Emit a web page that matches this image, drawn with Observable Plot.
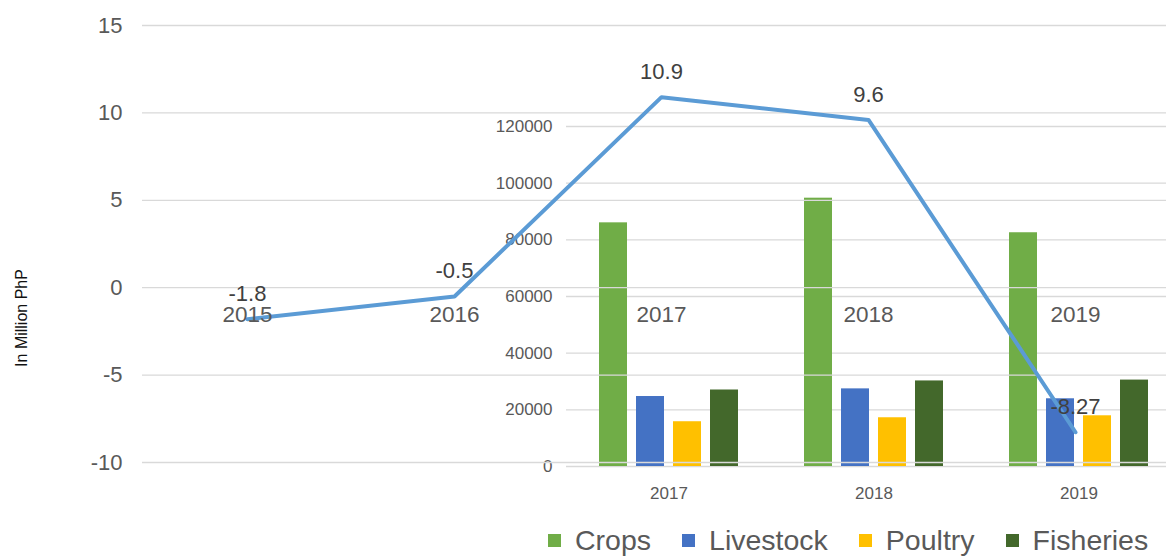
<!DOCTYPE html>
<html>
<head>
<meta charset="utf-8">
<script src="https://cdn.jsdelivr.net/npm/d3@7"></script>
<script src="https://cdn.jsdelivr.net/npm/@observablehq/plot@0.6"></script>
<style>
  html, body { margin: 0; padding: 0; background: #fff; }
  #wrap { position: relative; width: 1166px; height: 558px; overflow: hidden; background: #fff;
          font-family: "Liberation Sans", Arial, sans-serif; }
  #bars, #line { position: absolute; left: 0; top: 0; }
  #legend { position: absolute; top: 524px; left: 548px; display: flex; align-items: center;
            font-size: 28.5px; color: #595959; }
  #legend .item { display: flex; align-items: center; margin-right: 31px; }
  #legend .sw { width: 13px; height: 13px; margin-right: 14px; }
</style>
</head>
<body>
<div id="wrap">
  <div id="bars"></div>
  <div id="line"></div>
  <div id="legend"></div>
</div>
<script>
// Line series: annual growth
const years = ["2015", "2016", "2017", "2018", "2019"];
const growth = [-1.8, -0.5, 10.9, 9.6, -8.27];
const lineTicks = [-10, -5, 0, 5, 10, 15];
const yLabel = "In Million PhP";

// Bar series
const barYears = ["2017", "2018", "2019"];
const categories = ["Crops", "Livestock", "Poultry", "Fisheries"];
const crops = [86000, 94700, 82500];
const livestock = [24700, 27400, 23900];
const poultry = [15800, 17200, 17900];
const fisheries = [27000, 30200, 30500];
const barTicks = [0, 20000, 40000, 60000, 80000, 100000, 120000];
const colors = ["#70ad47", "#4472c4", "#ffc000", "#43682b"];

const lineData = years.map((y, i) => ({year: y, value: growth[i]}));
const series = [crops, livestock, poultry, fisheries];
const barData = [];
barYears.forEach((y, i) => categories.forEach((c, j) => barData.push({year: y, category: c, value: series[j][i]})));

const font = '"Liberation Sans", Arial, sans-serif';

const bars = Plot.plot({
  width: 1181, height: 520,
  marginLeft: 566, marginRight: 0, marginTop: 126, marginBottom: 54,
  style: {background: "transparent", maxWidth: "none", fontFamily: font, fontSize: "17px", color: "#595959", overflow: "visible"},
  facet: {data: barData, x: "year", marginBottom: 54, marginRight: 0},
  fx: {domain: barYears, padding: 0, label: null, tickSize: 0, tickPadding: 20, axis: "bottom"},
  x: {domain: categories, axis: null, paddingInner: 0.243, paddingOuter: 0.89},
  y: {domain: [0, 120000], ticks: barTicks, tickSize: 0, tickPadding: 14, tickFormat: d => String(d), label: null},
  color: {domain: categories, range: colors},
  marks: [
    Plot.ruleY(barTicks, {stroke: "#d9d9d9", strokeWidth: 1.3}),
    Plot.barY(barData, {x: "category", y: "value", fill: "category"})
  ]
});
document.getElementById("bars").appendChild(bars);

const line = Plot.plot({
  width: 1180, height: 500,
  marginLeft: 142, marginRight: 0, marginTop: 25, marginBottom: 38,
  style: {background: "transparent", maxWidth: "none", fontFamily: font, fontSize: "22px", color: "#595959"},
  x: {domain: years, axis: null},
  y: {domain: [-10, 15], ticks: lineTicks, tickSize: 0, tickPadding: 20, tickFormat: d => String(d), label: null},
  marks: [
    Plot.ruleY(lineTicks, {stroke: "#d9d9d9", strokeWidth: 1.3}),
    Plot.line(lineData, {x: "year", y: "value", stroke: "#5b9bd5", strokeWidth: 4, strokeLinecap: "round"}),
    Plot.text(lineData, {x: "year", y: "value", text: d => String(d.value), dy: -25, fontSize: 22, fill: "#404040"}),
    Plot.text(lineData, {x: "year", y: () => 0, text: "year", dy: 27, fontSize: 22.5, fill: "#595959"}),
    Plot.text([yLabel], {frameAnchor: "left", textAnchor: "middle", text: d => d, rotate: -90, dx: -121, dy: 74, fontSize: 16, fill: "#111"})
  ]
});
document.getElementById("line").appendChild(line);

const legend = document.getElementById("legend");
categories.forEach((c, i) => {
  const item = document.createElement("div");
  item.className = "item";
  const sw = document.createElement("span");
  sw.className = "sw";
  sw.style.background = colors[i];
  const t = document.createElement("span");
  t.textContent = c;
  item.appendChild(sw);
  item.appendChild(t);
  legend.appendChild(item);
});
</script>
</body>
</html>
